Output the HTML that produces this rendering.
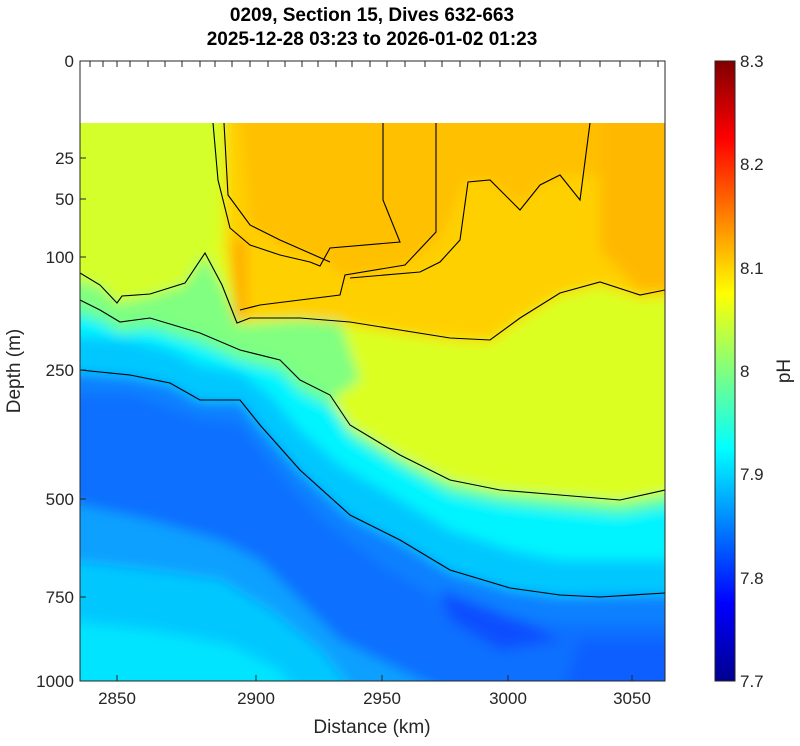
<!DOCTYPE html>
<html><head><meta charset="utf-8"><style>
body{margin:0;background:#fff;width:800px;height:741px;overflow:hidden;font-family:"Liberation Sans",sans-serif}
</style></head><body>
<svg width="800" height="741" xmlns="http://www.w3.org/2000/svg" font-family="Liberation Sans, sans-serif">
<defs>
<clipPath id="pc"><rect x="80" y="123" width="585" height="558"/></clipPath>
<filter id="bl" x="-5%" y="-5%" width="110%" height="110%"><feGaussianBlur stdDeviation="6"/></filter>
<linearGradient id="cb" x1="0" y1="1" x2="0" y2="0">
<stop offset="0" stop-color="#00008f"/><stop offset="0.125" stop-color="#0000ff"/><stop offset="0.375" stop-color="#00ffff"/><stop offset="0.625" stop-color="#ffff00"/><stop offset="0.875" stop-color="#ff0000"/><stop offset="1" stop-color="#800000"/>
</linearGradient>
</defs>
<g clip-path="url(#pc)">
<g filter="url(#bl)">
<rect x="60" y="110" width="620" height="590" fill="#dcff22"/>
<polygon points="225,110 680,110 680,295 640,298 600,285 560,295 520,320 490,342 450,340 400,333 350,325 300,318 250,320 238,322 225,250" fill="#ffd000"/>
<polygon points="240,110 680,110 680,180 590,175 560,175 540,185 520,205 490,180 465,180 440,240 405,265 345,278 330,265 280,245 250,225" fill="#ffc000"/>
<polygon points="600,110 680,110 680,290 640,290 600,250" fill="#ffb800"/>
<polygon points="60,110 225,110 215,240 205,255 185,280 150,292 117,300 60,270" fill="#d4ff2a"/>
<polygon points="235,240 245,240 245,320 235,320" fill="#ffa000"/>
<!-- between A and B -->
<polygon points="60,275 100,287 117,303 150,296 185,285 205,255 222,287 237,325 300,320 340,322 360,380 330,400 300,385 260,370 200,340 60,310" fill="#80ff80"/>
<polygon points="60,300 100,312 120,324 150,320 200,335 240,352 280,362 300,382 330,397 350,427 400,457 450,482 500,492 560,497 620,502 680,492 680,700 60,700" fill="#60ffa0"/>
<polygon points="60,310 100,322 120,334 150,330 200,345 240,362 280,372 300,392 330,407 350,437 400,467 450,494 500,504 560,510 620,515 680,505 680,700 60,700" fill="#00f4ff"/>
<polygon points="60,335 130,340 170,350 200,365 240,372 270,395 300,430 340,465 400,500 450,530 510,550 560,560 680,560 680,700 60,700" fill="#00c8ff"/>
<polygon points="60,372 130,377 170,385 200,402 240,402 260,427 300,472 350,517 400,542 450,572 510,590 560,597 680,595 680,700 60,700" fill="#0a80ff"/>
<polygon points="60,395 130,395 200,420 240,425 275,470 320,520 380,565 440,600 500,615 560,625 680,625 680,700 60,700" fill="#0a70ff"/>
<polygon points="60,500 150,520 220,540 260,560 300,600 340,640 400,670 460,700 60,700" fill="#0aa0ff"/>
<polygon points="60,560 150,570 220,580 270,610 320,650 360,700 60,700" fill="#00c8ff"/>
<polygon points="60,620 150,630 230,645 280,670 300,700 60,700" fill="#00e4ff"/>
<polygon points="440,590 520,620 560,640 500,650 450,620" fill="#0a50ff"/>
<polygon points="580,640 680,640 680,700 560,700" fill="#0a60ff"/>
</g>
<g fill="none" stroke="#000" stroke-width="1.1">
<polyline points="80,273 100,285 117,303 122,296 150,294 185,283 205,253 222,285 237,323 250,318 300,318 350,322 400,330 450,338 490,340 520,318 560,293 600,282 640,295 665,290"/>
<polyline points="80,300 100,310 120,322 150,318 200,333 240,350 280,360 300,380 330,395 350,425 400,455 450,480 500,490 560,495 620,500 665,490"/>
<polyline points="80,370 130,375 170,383 200,400 240,400 260,425 300,470 350,515 400,540 450,570 510,588 560,595 600,597 665,593"/>
<polyline points="213,123 218,180 230,228 250,245 280,255 310,262 320,266 330,248 400,242 383,200 383,123"/>
<polyline points="224,123 228,195 250,225 280,240 330,262"/>
<polyline points="436,123 436,232 405,265 345,275 340,295 300,300 260,305 240,310"/>
<polyline points="590,123 580,200 560,175 540,185 520,210 490,180 468,182 460,240 440,262 420,272 350,278"/>
</g>
</g>
<rect x="80" y="61" width="585" height="620" fill="none" stroke="#262626" stroke-width="1"/>
<g stroke="#262626" stroke-width="1">
<line x1="80" y1="158" x2="86" y2="158"/><line x1="80" y1="199" x2="86" y2="199"/><line x1="80" y1="257" x2="86" y2="257"/><line x1="80" y1="370" x2="86" y2="370"/><line x1="80" y1="499" x2="86" y2="499"/><line x1="80" y1="597" x2="86" y2="597"/>
<line x1="117" y1="681" x2="117" y2="675"/><line x1="256" y1="681" x2="256" y2="675"/><line x1="382" y1="681" x2="382" y2="675"/><line x1="508" y1="681" x2="508" y2="675"/><line x1="632" y1="681" x2="632" y2="675"/>
<path d="M90 61v6M103 61v6M117 61v6M130 61v6M148 61v6M165 61v6M182 61v6M200 61v6M215 61v6M232 61v6M250 61v6M268 61v6M285 61v6M302 61v6M318 61v6M336 61v6M352 61v6M370 61v6M387 61v6M405 61v6M425 61v6M442 61v6M460 61v6M480 61v6M500 61v6M520 61v6M540 61v6M560 61v6M580 61v6M600 61v6M620 61v6M640 61v6M658 61v6"/>
</g>
<g font-size="17" fill="#262626" text-anchor="end">
<text x="74" y="67">0</text><text x="74" y="164">25</text><text x="74" y="205">50</text><text x="74" y="263">100</text><text x="74" y="376">250</text><text x="74" y="505">500</text><text x="74" y="603">750</text><text x="74" y="687">1000</text>
</g>
<g font-size="17" fill="#262626" text-anchor="middle">
<text x="117" y="704">2850</text><text x="256" y="704">2900</text><text x="382" y="704">2950</text><text x="508" y="704">3000</text><text x="632" y="704">3050</text>
<text x="372" y="733" font-size="19">Distance (km)</text>
<text transform="translate(20,371) rotate(-90)" font-size="19">Depth (m)</text>
<text x="372" y="21" font-weight="bold" font-size="19" fill="#000">0209, Section 15, Dives 632-663</text>
<text x="372" y="45" font-weight="bold" font-size="19" fill="#000">2025-12-28 03:23 to 2026-01-02 01:23</text>
</g>
<rect x="715" y="61" width="20" height="620" fill="url(#cb)" stroke="#262626" stroke-width="1"/>
<g font-size="17" fill="#262626">
<text x="740" y="67">8.3</text><text x="740" y="170">8.2</text><text x="740" y="274">8.1</text><text x="740" y="377">8</text><text x="740" y="480">7.9</text><text x="740" y="584">7.8</text><text x="740" y="687">7.7</text>
<text transform="translate(790,371) rotate(-90)" text-anchor="middle" font-size="19">pH</text>
</g>
</svg>
</body></html>
